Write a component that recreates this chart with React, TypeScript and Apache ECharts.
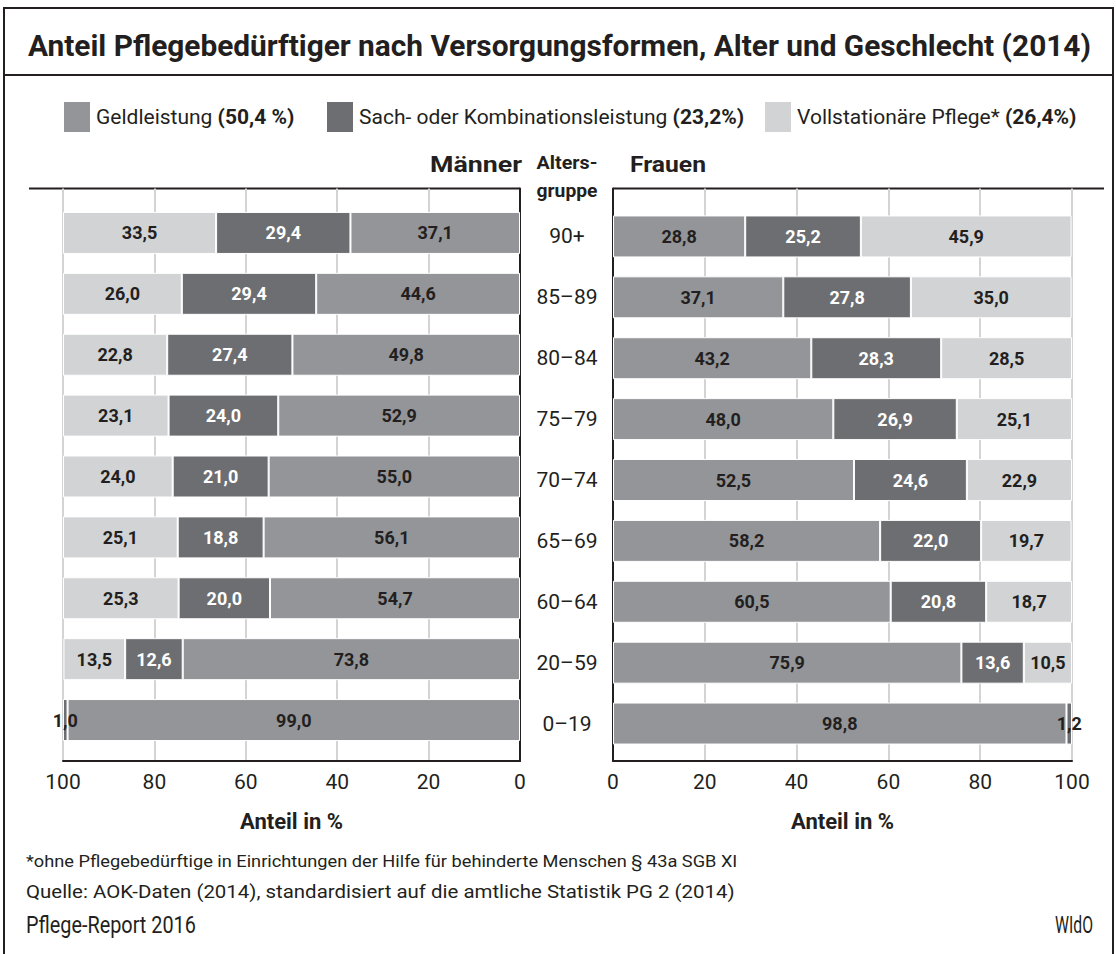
import React, { useEffect, useRef } from "react";
import * as echarts from "echarts";

const categories = ["90+", "85–89", "80–84", "75–79", "70–74", "65–69", "60–64", "20–59", "0–19"];
const menGeld = [37.1, 44.6, 49.8, 52.9, 55.0, 56.1, 54.7, 73.8, 99.0];
const menSach = [29.4, 29.4, 27.4, 24.0, 21.0, 18.8, 20.0, 12.6, 1.0];
const menVoll = [33.5, 26.0, 22.8, 23.1, 24.0, 25.1, 25.3, 13.5, null];
const womenGeld = [28.8, 37.1, 43.2, 48.0, 52.5, 58.2, 60.5, 75.9, 98.8];
const womenSach = [25.2, 27.8, 28.3, 26.9, 24.6, 22.0, 20.8, 13.6, 1.2];
const womenVoll = [45.9, 35.0, 28.5, 25.1, 22.9, 19.7, 18.7, 10.5, null];
const seriesNames = ["Geldleistung", "Sach- oder Kombinationsleistung", "Vollstationäre Pflege*"];
const legendShares = ["50,4 %", "23,2%", "26,4%"];
const seriesColors = ["#939598", "#6d6e71", "#d1d3d4"];
const labelColors = ["#231f20", "#ffffff", "#231f20"];

const FF = "Roboto, 'Open Sans', sans-serif";
const DARK = "#231f20";
const GRID_LINE = "#d4d4d4";

const fmt = (v: number | null) => (v == null ? "" : v.toFixed(1).replace(".", ","));

let measureCtx: CanvasRenderingContext2D | null = null;
function measure(text: string, font: string) {
  if (!measureCtx) measureCtx = document.createElement("canvas").getContext("2d");
  if (!measureCtx) return 0;
  measureCtx.font = font;
  return measureCtx.measureText(text).width;
}

function fitText(
  text: string,
  x: number,
  y: number,
  font: string,
  targetWidth: number,
  align: "left" | "right" | "center" = "left"
) {
  const w = measure(text, font);
  const s = w > 0 ? targetWidth / w : 1;
  return {
    type: "text",
    x,
    y,
    scaleX: s,
    scaleY: 1,
    style: { text, font, fill: DARK, textAlign: align, textVerticalAlign: "middle" },
  };
}

function makeSeries(values: (number | null)[], idx: number, stack: string, axisIdx: number) {
  return {
    type: "bar",
    name: seriesNames[idx],
    stack,
    xAxisIndex: axisIdx,
    yAxisIndex: axisIdx,
    barWidth: 42,
    itemStyle: { color: seriesColors[idx], borderColor: "#ffffff", borderWidth: 1 },
    label: {
      show: true,
      position: "inside",
      fontFamily: FF,
      fontWeight: "bold",
      fontSize: 18,
      color: labelColors[idx],
      formatter: (p: any) => fmt(p.value),
    },
    data: values.map((v) =>
      v != null && v < 5 ? { value: v, label: { color: DARK } } : { value: v }
    ),
  };
}

function frameX(inverse: boolean) {
  return {
    type: "value",
    min: 0,
    max: 100,
    interval: 20,
    inverse,
    axisLine: { show: true, onZero: false, lineStyle: { color: DARK, width: 2 } },
    axisTick: { show: false },
    splitLine: { show: true, lineStyle: { color: GRID_LINE, width: 2 } },
    axisLabel: { fontFamily: FF, fontSize: 21, color: DARK, margin: 10 },
    name: "Anteil in %",
    nameLocation: "middle",
    nameGap: 49,
    nameTextStyle: { fontFamily: FF, fontSize: 22, fontWeight: "bold", color: DARK },
  };
}

function hiddenX(inverse: boolean) {
  return { type: "value", min: 0, max: 100, inverse, show: false };
}

export default function App() {
  const ref = useRef<HTMLDivElement>(null);
  useEffect(() => {
    if (!ref.current) return;
    const chart = echarts.init(ref.current, undefined, { renderer: "svg" });
    const legendBase = (i: number, left: number) => ({
      left,
      top: 100,
      padding: 0,
      orient: "horizontal",
      itemWidth: 28,
      itemHeight: 32,
      icon: "rect",
      selectedMode: false,
      data: [seriesNames[i]],
      formatter: (name: string) => `${name} {b|(${legendShares[i]})}`,
      textStyle: {
        fontFamily: FF,
        fontSize: 21,
        color: DARK,
        rich: { b: { fontFamily: FF, fontSize: 21, fontWeight: "bold", color: DARK } },
      },
    });
    const option: any = {
      animation: false,
      backgroundColor: "#ffffff",
      legend: [legendBase(0, 62), legendBase(1, 325), legendBase(2, 763)],
      grid: [
        { left: 63, right: 596, top: 188.5, bottom: 193 },
        { left: 63, right: 596, top: 202.5, bottom: 203.5 },
        { left: 613, right: 44, top: 188.5, bottom: 193 },
        { left: 613, right: 44, top: 206, bottom: 200 },
      ],
      xAxis: [
        { ...frameX(true), gridIndex: 0 },
        { ...hiddenX(true), gridIndex: 1 },
        { ...frameX(false), gridIndex: 2 },
        { ...hiddenX(false), gridIndex: 3 },
      ],
      yAxis: [
        {
          gridIndex: 0,
          type: "value",
          min: 0,
          max: 1,
          position: "right",
          axisLine: { show: true, onZero: false, lineStyle: { color: DARK, width: 2 } },
          axisTick: { show: false },
          axisLabel: { show: false },
          splitLine: { show: false },
        },
        { gridIndex: 1, type: "category", inverse: true, data: categories, show: false },
        {
          gridIndex: 2,
          type: "value",
          min: 0,
          max: 1,
          position: "left",
          axisLine: { show: true, onZero: false, lineStyle: { color: DARK, width: 2 } },
          axisTick: { show: false },
          axisLabel: { show: false },
          splitLine: { show: false },
        },
        {
          gridIndex: 3,
          type: "category",
          inverse: true,
          data: categories,
          position: "left",
          axisLine: { show: false },
          axisTick: { show: false },
          splitLine: { show: false },
          axisLabel: { fontFamily: FF, fontSize: 21, color: DARK, align: "center", margin: 46 },
        },
      ],
      series: [
        makeSeries(menGeld, 0, "m", 1),
        makeSeries(menSach, 1, "m", 1),
        makeSeries(menVoll, 2, "m", 1),
        makeSeries(womenGeld, 0, "f", 3),
        makeSeries(womenSach, 1, "f", 3),
        makeSeries(womenVoll, 2, "f", 3),
      ],
      graphic: [
        {
          type: "rect",
          shape: { x: 4, y: 8, width: 1109, height: 960 },
          style: { fill: "none", stroke: DARK, lineWidth: 2 },
          silent: true,
        },
        { type: "line", shape: { x1: 4, y1: 75, x2: 1113, y2: 75 }, style: { stroke: DARK, lineWidth: 2 } },
        fitText(
          "Anteil Pflegebedürftiger nach Versorgungsformen, Alter und Geschlecht (2014)",
          28,
          46,
          `bold 29px ${FF}`,
          1064
        ),
        fitText("Männer", 522, 164, `bold 22px ${FF}`, 92, "right"),
        fitText("Alters-", 567, 163, `bold 19px ${FF}`, 61, "center"),
        fitText("gruppe", 567, 191, `bold 19px ${FF}`, 61, "center"),
        fitText("Frauen", 630, 164, `bold 22px ${FF}`, 76, "left"),
        { type: "line", shape: { x1: 29, y1: 188.5, x2: 520, y2: 188.5 }, style: { stroke: DARK, lineWidth: 2 } },
        { type: "line", shape: { x1: 613, y1: 188.5, x2: 1104, y2: 188.5 }, style: { stroke: DARK, lineWidth: 2 } },
        fitText(
          "*ohne Pflegebedürftige in Einrichtungen der Hilfe für behinderte Menschen § 43a SGB XI",
          26,
          861,
          `16px ${FF}`,
          712
        ),
        fitText(
          "Quelle: AOK-Daten (2014), standardisiert auf die amtliche Statistik PG 2 (2014)",
          26,
          892,
          `19px ${FF}`,
          709
        ),
        fitText("Pflege-Report 2016", 26, 925, `23px ${FF}`, 170),
        fitText("WIdO", 1093, 925, `23px ${FF}`, 38, "right"),
      ],
    };
    chart.setOption(option);
    return () => chart.dispose();
  }, []);
  return (
    <div
      ref={ref}
      style={{ position: "absolute", left: 0, top: 0, width: 1116, height: 954, background: "#fff" }}
    />
  );
}
